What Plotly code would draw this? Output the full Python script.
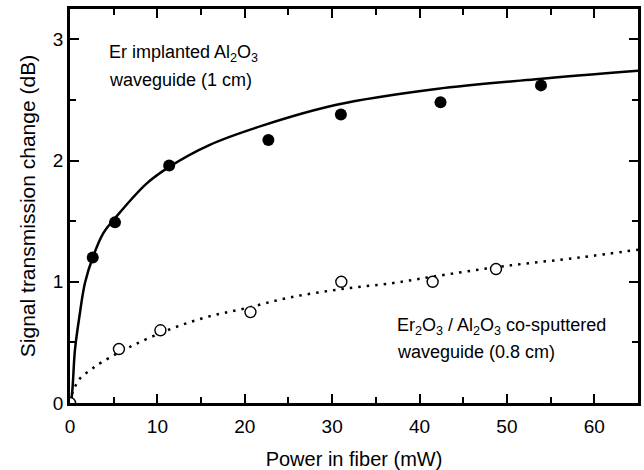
import plotly.graph_objects as go

# Er implanted Al2O3 waveguide (1 cm) - measured points
er_impl_x = [2.6, 5.15, 11.35, 22.7, 31.0, 42.4, 53.9]
er_impl_y = [1.20, 1.49, 1.96, 2.17, 2.38, 2.48, 2.62]

# Er2O3 / Al2O3 co-sputtered waveguide (0.8 cm) - measured points
cosp_x = [0.0, 5.6, 10.35, 20.65, 31.05, 41.5, 48.75]
cosp_y = [0.0, 0.445, 0.60, 0.75, 1.0, 1.0, 1.105]

# fitted curve (solid)
fit1_x = [0.0, 0.19, 0.57, 1.07, 1.71, 2.6, 3.8, 5.33, 8.76, 11.4, 16.0, 22.1, 30.5, 41.9, 53.3, 65.0]
fit1_y = [0.0, 0.05, 0.44, 0.71, 0.99, 1.20, 1.40, 1.54, 1.81, 1.95, 2.13, 2.29, 2.46, 2.59, 2.67, 2.74]

# fitted curve (dotted)
fit2_x = [0.2, 1.06, 2.3, 3.6, 7.2, 11.5, 15.7, 20.0, 25.1, 31.1, 37.0, 41.3, 49.8, 58.3, 65.0]
fit2_y = [0.07, 0.195, 0.27, 0.335, 0.475, 0.61, 0.71, 0.78, 0.87, 0.94, 0.99, 1.04, 1.13, 1.20, 1.265]

x_ticks = [0, 10, 20, 30, 40, 50, 60]
y_ticks = [0, 1, 2, 3]

FONT = "Liberation Sans, Arial, Helvetica, sans-serif"

fig = go.Figure()
fig.add_trace(go.Scatter(x=fit1_x, y=fit1_y, mode="lines", line=dict(color="black", width=2.5, shape="spline"),
                         showlegend=False, hoverinfo="skip"))
fig.add_trace(go.Scatter(x=fit2_x, y=fit2_y, mode="lines",
                         line=dict(color="black", width=2.5, dash="2.5px,6px", shape="spline"),
                         showlegend=False, hoverinfo="skip"))
fig.add_trace(go.Scatter(x=er_impl_x, y=er_impl_y, mode="markers",
                         marker=dict(symbol="circle", size=12, color="black", line=dict(width=0)),
                         showlegend=False))
fig.add_trace(go.Scatter(x=cosp_x, y=cosp_y, mode="markers",
                         marker=dict(symbol="circle", size=11, color="white", line=dict(color="black", width=1.4)),
                         showlegend=False))

axis_common = dict(showline=True, linecolor="black", linewidth=2.5, mirror="ticks",
                   ticks="inside", ticklen=9, tickwidth=2, tickcolor="black",
                   showgrid=False, zeroline=False, automargin=False,
                   tickfont=dict(family=FONT, size=19, color="black"))

fig.update_xaxes(range=[0, 65], tickvals=x_ticks, ticktext=[str(v) for v in x_ticks],
                 ticklabelstandoff=4,
                 minor=dict(dtick=5, tick0=0, ticks="inside", ticklen=6, tickwidth=2, tickcolor="black"),
                 title=dict(text="Power in fiber (mW)", font=dict(family=FONT, size=20, color="black"), standoff=18),
                 **axis_common)
fig.update_yaxes(range=[0, 3.25], tickvals=y_ticks, ticktext=[str(v) for v in y_ticks],
                 minor=dict(dtick=0.5, tick0=0, ticks="inside", ticklen=6, tickwidth=2, tickcolor="black"),
                 title=dict(text="Signal transmission change (dB)", font=dict(family=FONT, size=21, color="black"), standoff=12),
                 **axis_common)

ann_font = dict(family=FONT, size=18, color="black")
fig.add_annotation(x=4.2, y=2.887, xref="x", yref="y", text="Er implanted Al<sub>2</sub>O<sub>3</sub>",
                   showarrow=False, xanchor="left", yanchor="middle", font=ann_font)
fig.add_annotation(x=4.2, y=2.664, xref="x", yref="y", text="waveguide (1 cm)",
                   showarrow=False, xanchor="left", yanchor="middle", font=ann_font)
fig.add_annotation(x=37.2, y=0.628, xref="x", yref="y",
                   text="Er<sub>2</sub>O<sub>3</sub> / Al<sub>2</sub>O<sub>3</sub> co-sputtered",
                   showarrow=False, xanchor="left", yanchor="middle", font=ann_font)
fig.add_annotation(x=37.2, y=0.42, xref="x", yref="y", text="waveguide (0.8 cm)",
                   showarrow=False, xanchor="left", yanchor="middle", font=ann_font)

fig.update_layout(width=644, height=470, margin=dict(l=70, r=6, t=9, b=67),
                  plot_bgcolor="white", paper_bgcolor="white",
                  font=dict(family=FONT, color="black"))

page_fix = ("document.documentElement.style.margin='0';document.body.style.margin='0';"
            "document.documentElement.style.overflow='hidden';document.body.style.overflow='hidden';")
fig.write_html("out.html", post_script=page_fix, config={"displayModeBar": False})
